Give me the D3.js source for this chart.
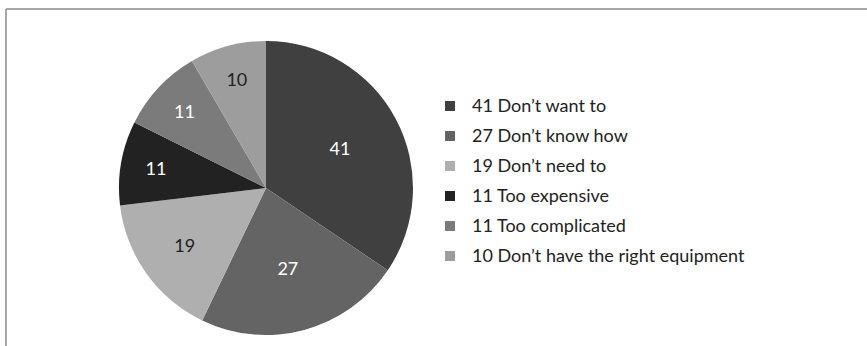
<!DOCTYPE html>
<html><head><meta charset="utf-8">
<script src="https://cdn.jsdelivr.net/npm/d3@7"></script>
<style>html,body{margin:0;padding:0;background:#fff;}svg{display:block;}</style>
</head><body>
<svg id="chart" width="867" height="346"></svg>
<script>
const categories = ["Don’t want to","Don’t know how","Don’t need to","Too expensive","Too complicated","Don’t have the right equipment"];
const values = [41, 27, 19, 11, 11, 10];
const colors = ["#404040","#646464","#afafaf","#222222","#7b7b7b","#9d9d9d"];
const labelColors = ["#fff","#fff","#222","#fff","#fff","#222"];

const svg = d3.select("#chart");
const W = 867, H = 346;
const font = "Lato, sans-serif";

// frame
svg.append("line").attr("x1",6).attr("x2",W).attr("y1",9).attr("y2",9).attr("stroke","#8a8a8a").attr("stroke-width",1.5);
svg.append("line").attr("x1",6).attr("x2",6).attr("y1",9).attr("y2",H).attr("stroke","#8a8a8a").attr("stroke-width",1.5);

const cx = 266, cy = 188, R = 147;
const data = values.map((v,i)=>({v,i,name:categories[i]}));
const pie = d3.pie().value(d=>d.v).sort(null);
const arcs = pie(data);
const arc = d3.arc().innerRadius(0).outerRadius(R);
const g = svg.append("g").attr("transform",`translate(${cx},${cy})`);
g.selectAll("path").data(arcs).join("path").attr("d",arc).attr("fill",d=>colors[d.data.i]);

const frac = v => v >= 25 ? 0.57 : v >= 15 ? 0.68 : 0.76;
g.selectAll("text").data(arcs).join("text")
  .attr("transform",d=>{const r=R*frac(d.data.v);return `translate(${d3.arc().innerRadius(r).outerRadius(r).centroid(d)})`;})
  .attr("text-anchor","middle").attr("dy","0.35em")
  .attr("font-family",font).attr("font-size",18).attr("fill",d=>labelColors[d.data.i])
  .text(d=>d.data.v);

// legend
const ly = d3.scaleBand().domain(d3.range(values.length)).range([91,271]);
const lg = svg.append("g");
const rows = lg.selectAll("g").data(data).join("g").attr("transform",d=>`translate(450,${ly(d.i)+ly.bandwidth()/2})`);
rows.append("rect").attr("x",-5).attr("y",-5).attr("width",10).attr("height",10).attr("fill",d=>colors[d.i]);
rows.append("text").attr("x",22).attr("dy","0.35em").attr("font-family",font).attr("font-size",18).attr("fill","#222")
  .text(d=>`${d.v} ${d.name}`);
</script>
</body></html>
